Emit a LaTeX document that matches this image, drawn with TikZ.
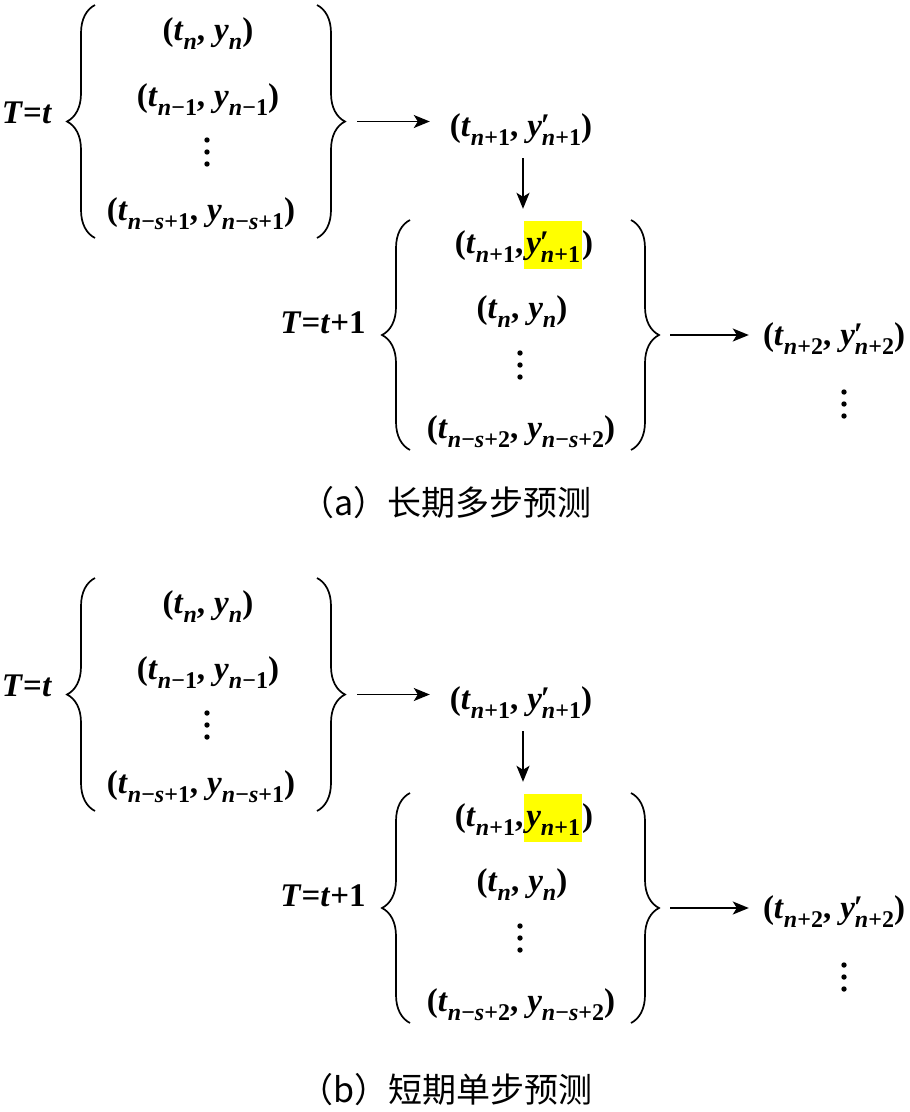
\documentclass[tikz,border=0pt]{standalone}
\usepackage{fontspec}
\setmainfont{Liberation Serif}
\newfontfamily\cjk{Noto Sans CJK SC}
\usetikzlibrary{arrows.meta,decorations.pathreplacing}
\definecolor{hl}{RGB}{255,255,0}
\newcommand{\vi}[1]{\textit{#1}}
\newcommand{\sbs}[1]{\raisebox{-9pt}{\fontsize{24}{24}\selectfont #1}}
\newcommand{\ypr}{\vi{y}\rlap{\kern-1pt ′}}
\newcommand{\cm}{,\kern9pt}
\newcommand{\hlbox}[1]{{\setlength{\fboxsep}{0pt}\colorbox{hl}{\rule[-16pt]{0pt}{48pt}\kern2pt#1\kern2pt}}}
\tikzset{
  lbl/.style={inner sep=0pt, anchor=base, font=\fontsize{33}{36}\selectfont\bfseries},
  arr/.style={line width=1.7pt, -{Stealth[length=16pt,width=13pt,inset=4pt]}},
  br/.style={decorate, decoration={brace,amplitude=28pt}, line width=1.7pt},
  captxt/.style={inner sep=0pt, font=\fontsize{34}{36}\selectfont\cjk}
}
\newcommand{\panel}[3]{%
\begin{scope}[yshift=#2]
\node[lbl] (#1T) at (27,-123) {\vi{T}=\vi{t}};
\node[lbl] (#1r1) at (208,-40) {(\vi{t}\sbs{\vi{n}}\cm\vi{y}\sbs{\vi{n}})};
\node[lbl] (#1r2) at (208,-106) {(\vi{t}\sbs{\vi{n}−1}\cm\vi{y}\sbs{\vi{n}−1})};
\coordinate (#1v1) at (207,-152);
\node[lbl] (#1r3) at (201,-220) {(\vi{t}\sbs{\vi{n}−\vi{s}+1}\cm\vi{y}\sbs{\vi{n}−\vi{s}+1})};
\coordinate (#1bl1a) at (95,-238);
\coordinate (#1bl1b) at (95,-5);
\draw[br] (#1bl1a) -- (#1bl1b);
\coordinate (#1br1a) at (317,-5);
\coordinate (#1br1b) at (317,-238);
\draw[br] (#1br1a) -- (#1br1b);
\coordinate (#1tR) at (345,-121.5);
\node[lbl] (#1p1) at (521,-136) {(\vi{t}\sbs{\vi{n}+1}\cm\ypr\sbs{\vi{n}+1})};
\draw[arr, shorten <=12pt, shorten >=20pt] (#1tR) -- (#1tR -| #1p1.west);
\node[lbl] (#1T2) at (323,-333) {\vi{T}=\vi{t}+1};
\node[lbl] (#1q1) at (524,-253) {(\vi{t}\sbs{\vi{n}+1},\kern1pt#3)};
\node[lbl] (#1q2) at (522,-318) {(\vi{t}\sbs{\vi{n}}\cm\vi{y}\sbs{\vi{n}})};
\coordinate (#1v2) at (520,-365);
\node[lbl] (#1q3) at (521,-438) {(\vi{t}\sbs{\vi{n}−\vi{s}+2}\cm\vi{y}\sbs{\vi{n}−\vi{s}+2})};
\coordinate (#1dx) at (523,0);
\coordinate (#1dtop) at (523,-158);
\draw[arr, shorten >=12pt] (#1dtop) -- (#1q1.north -| #1dx);
\coordinate (#1bl2a) at (410,-450);
\coordinate (#1bl2b) at (410,-220);
\draw[br] (#1bl2a) -- (#1bl2b);
\coordinate (#1br2a) at (631,-220);
\coordinate (#1br2b) at (631,-450);
\draw[br] (#1br2a) -- (#1br2b);
\coordinate (#1tR2) at (659,-335);
\node[lbl] (#1p2) at (834,-345) {(\vi{t}\sbs{\vi{n}+2}\cm\ypr\sbs{\vi{n}+2})};
\draw[arr, shorten <=11pt, shorten >=14pt] (#1tR2) -- (#1tR2 -| #1p2.west);
\coordinate (#1v3) at (844,-404);
\foreach \c in {#1v1,#1v2,#1v3}
  \fill (\c) ++(0,12) circle (2.7pt) (\c) circle (2.7pt) (\c) ++(0,-12) circle (2.7pt);
\end{scope}}
\begin{document}
\begin{tikzpicture}[x=1pt,y=1pt]
\useasboundingbox (0,0) rectangle (910,-1112);
\panel{a}{0pt}{\hlbox{\ypr\sbs{\vi{n}+1}}}
\panel{b}{-573pt}{\hlbox{\vi{y}\sbs{\vi{n}+1}}}
\node[captxt] (capa) at (446,-503) {（a）长期多步预测};
\node[captxt] (capb) at (446,-1090) {（b）短期单步预测};
\end{tikzpicture}
\end{document}
